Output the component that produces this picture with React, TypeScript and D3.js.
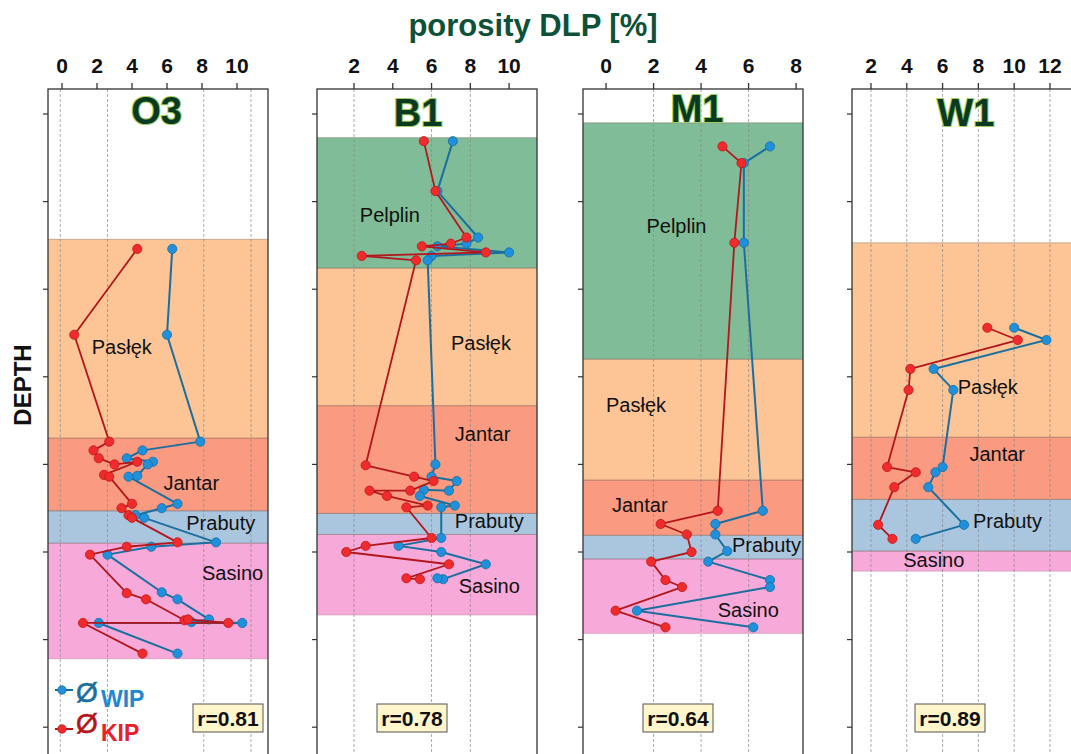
import React from "react";
import * as d3 from "d3";

// ---------- data ----------
// depth in arbitrary units (tick spacing 100), value = porosity [%]
const depthTicks = [0, 100, 200, 300, 400, 500, 600, 700];

const wellNames = ["O3", "B1", "M1", "W1"];
const rValues = ["r=0.81", "r=0.78", "r=0.64", "r=0.89"];

const o3Ticks = [0, 2, 4, 6, 8, 10];
const b1Ticks = [2, 4, 6, 8, 10];
const m1Ticks = [0, 2, 4, 6, 8];
const w1Ticks = [2, 4, 6, 8, 10, 12];

const o3Grid = [-0.1, 2.6, 8.1, 10.8];
const b1Grid = [2, 6, 8];
const m1Grid = [2, 4, 6];
const w1Grid = [2, 4, 6, 8, 10, 12];

const o3Domain = [-0.8, 11.77];
const b1Domain = [0.09, 11.44];
const m1Domain = [-0.97, 8.29];
const w1Domain = [0.94, 13.23];

// [depth, porosity]
const o3Wip = [[154, 6.3], [252, 6.0], [374, 7.9], [384, 4.6], [393, 3.7], [397, 5.2], [400, 4.9], [413, 4.3], [414, 3.8], [445, 6.6], [450, 5.7], [458, 4.2], [461, 4.7], [489, 8.8], [494, 5.1], [503, 2.6], [546, 5.7], [554, 6.6], [577, 8.4], [580, 7.4], [581, 10.3], [581, 2.1], [616, 6.6]];
const o3Kip = [[154, 4.3], [252, 0.7], [374, 2.7], [384, 1.8], [393, 2.1], [400, 3.0], [397, 4.3], [412, 2.4], [414, 2.7], [445, 4.0], [450, 3.4], [458, 3.8], [461, 4.0], [489, 6.6], [494, 3.7], [503, 1.6], [547, 3.7], [554, 4.8], [578, 7.0], [577, 7.2], [581, 9.5], [581, 1.2], [616, 4.6]];

const b1Wip = [[31, 7.1], [88, 6.3], [141, 8.4], [148, 7.8], [151, 6.3], [158, 10.0], [162, 6.0], [167, 5.8], [400, 6.2], [414, 6.0], [419, 7.3], [430, 6.9], [429, 5.6], [436, 5.4], [447, 7.2], [449, 6.5], [484, 6.5], [493, 4.3], [500, 6.5], [514, 8.8], [531, 6.6], [530, 6.3]];
const b1Kip = [[31, 5.6], [88, 6.2], [141, 7.8], [148, 7.0], [151, 5.5], [158, 8.8], [162, 2.4], [167, 5.2], [401, 2.6], [414, 5.1], [419, 6.1], [430, 4.9], [430, 2.8], [436, 3.7], [447, 5.8], [449, 4.7], [484, 6.0], [493, 2.6], [500, 1.6], [514, 6.9], [530, 4.7], [531, 5.4]];

const m1Wip = [[37, 6.9], [56, 5.8], [147, 5.8], [453, 6.6], [468, 4.6], [480, 4.6], [499, 5.1], [511, 4.3], [532, 6.9], [540, 6.9], [567, 1.3], [586, 6.2]];
const m1Kip = [[37, 4.9], [56, 5.7], [147, 5.4], [453, 4.7], [468, 2.3], [480, 3.4], [500, 3.6], [511, 1.9], [532, 2.5], [540, 3.2], [567, 0.4], [586, 2.5]];

const w1Wip = [[244, 10.0], [258, 11.8], [291, 5.5], [315, 6.6], [403, 6.0], [409, 5.6], [426, 5.2], [469, 7.2], [485, 4.5]];
const w1Kip = [[244, 8.5], [258, 10.2], [291, 4.2], [315, 4.1], [403, 2.9], [409, 4.5], [426, 3.3], [469, 2.4], [485, 3.2]];

// formations: [name, top depth, bottom depth]
const o3Bands = [["Pasłęk", 143, 370], ["Jantar", 370, 453], ["Prabuty", 453, 490], ["Sasino", 490, 622]];
const b1Bands = [["Pelplin", 27, 176], ["Pasłęk", 176, 333], ["Jantar", 333, 456], ["Prabuty", 456, 480], ["Sasino", 480, 572]];
const m1Bands = [["Pelplin", 10, 280], ["Pasłęk", 280, 418], ["Jantar", 418, 481], ["Prabuty", 481, 508], ["Sasino", 508, 593]];
const w1Bands = [["Pasłęk", 147, 369], ["Jantar", 369, 440], ["Prabuty", 440, 499], ["Sasino", 499, 522]];

// formation label anchors: [name, porosity (left edge), depth (baseline)]
const o3Labels = [["Pasłęk", 1.7, 274], ["Jantar", 5.8, 429], ["Prabuty", 7.1, 475], ["Sasino", 8.0, 532]];
const b1Labels = [["Pelplin", 2.3, 123], ["Pasłęk", 7.0, 269], ["Jantar", 7.2, 373], ["Prabuty", 7.2, 473], ["Sasino", 7.4, 547]];
const m1Labels = [["Pelplin", 1.7, 136], ["Pasłęk", 0.0, 340], ["Jantar", 0.25, 454], ["Prabuty", 5.3, 500], ["Sasino", 4.7, 574]];
const w1Labels = [["Pasłęk", 6.85, 320], ["Jantar", 7.5, 396], ["Prabuty", 7.7, 473], ["Sasino", 3.8, 517]];

// well title anchor: [porosity (center), depth (baseline)]
const titleAnchors = [[5.4, 11], [5.3, 14], [3.83, 9], [7.3, 14]];

// ---------- style / layout ----------
const FONT = "'Liberation Sans', Arial, Helvetica, sans-serif";
const bandColors: Record<string, string> = {
  "Pelplin": "#7fbc97",
  "Pasłęk": "#fdc596",
  "Jantar": "#fa9a80",
  "Prabuty": "#aac6df",
  "Sasino": "#f7a9da",
};
const WIP_LINE = "#1b6f9f";
const WIP_DOT = "#1e90dc";
const KIP_LINE = "#b3171c";
const KIP_DOT = "#f02b2b";

const W = 1071;
const H = 754;
const panelLefts = [48, 317, 583, 852];
const panelW = 220;
const frameTop = 89;
const frameBottom = 770;
const rBoxOffsets = [145, 60, 60, 63];

const yScale = d3.scaleLinear().domain([0, 700]).range([114, 114 + 7 * 87.6]);

const panels = [
  { ticks: o3Ticks, grid: o3Grid, domain: o3Domain, wip: o3Wip, kip: o3Kip, bands: o3Bands, labels: o3Labels },
  { ticks: b1Ticks, grid: b1Grid, domain: b1Domain, wip: b1Wip, kip: b1Kip, bands: b1Bands, labels: b1Labels },
  { ticks: m1Ticks, grid: m1Grid, domain: m1Domain, wip: m1Wip, kip: m1Kip, bands: m1Bands, labels: m1Labels },
  { ticks: w1Ticks, grid: w1Grid, domain: w1Domain, wip: w1Wip, kip: w1Kip, bands: w1Bands, labels: w1Labels },
];

function Panel({ i }: { i: number }) {
  const p = panels[i];
  const left = panelLefts[i];
  const x = d3.scaleLinear().domain(p.domain as [number, number]).range([left, left + panelW]);
  const line = d3.line<number[]>().x((d) => x(d[1])).y((d) => yScale(d[0]));
  const clipId = `clip-${i}`;
  const [tx, td] = titleAnchors[i];
  return (
    <g>
      <defs>
        <clipPath id={clipId}>
          <rect x={left} y={frameTop} width={panelW} height={frameBottom - frameTop} />
        </clipPath>
      </defs>
      <g clipPath={`url(#${clipId})`}>
        {p.bands.map((b: any, k: number) => (
          <rect key={k} x={left} width={panelW} y={yScale(b[1])} height={yScale(b[2]) - yScale(b[1])} fill={bandColors[b[0]]} />
        ))}
        {p.bands.map((b: any, k: number) => (
          <g key={"bl" + k}>
            <line x1={left} x2={left + panelW} y1={yScale(b[1])} y2={yScale(b[1])} stroke="#6a4a40" strokeOpacity={0.35} strokeWidth={1} />
            <line x1={left} x2={left + panelW} y1={yScale(b[2])} y2={yScale(b[2])} stroke="#6a4a40" strokeOpacity={0.2} strokeWidth={1} />
          </g>
        ))}
        {p.grid.map((g: number, k: number) => (
          <line key={"g" + k} x1={x(g)} x2={x(g)} y1={frameTop} y2={frameBottom} stroke="#8a8a8a" strokeWidth={0.9} strokeDasharray="3,2" strokeOpacity={0.8} />
        ))}
        {p.labels.map((l: any, k: number) => (
          <text key={"l" + k} x={x(l[1])} y={yScale(l[2])} fontFamily={FONT} fontSize={20} fill="#111">{l[0]}</text>
        ))}
        <path d={line(p.wip as number[][]) || ""} fill="none" stroke={WIP_LINE} strokeWidth={2} strokeLinejoin="round" />
        {p.wip.map((d: number[], k: number) => (
          <circle key={"w" + k} cx={x(d[1])} cy={yScale(d[0])} r={4.6} fill={WIP_DOT} stroke={WIP_LINE} strokeWidth={0.8} />
        ))}
        <path d={line(p.kip as number[][]) || ""} fill="none" stroke={KIP_LINE} strokeWidth={1.8} strokeLinejoin="round" />
        {p.kip.map((d: number[], k: number) => (
          <circle key={"k" + k} cx={x(d[1])} cy={yScale(d[0])} r={4.6} fill={KIP_DOT} stroke="#c0181c" strokeWidth={0.8} />
        ))}
      </g>
      <rect x={left} y={frameTop} width={panelW} height={frameBottom - frameTop} fill="none" stroke="#333" strokeWidth={1.3} />
      {p.ticks.map((t: number, k: number) => (
        <g key={"t" + k}>
          <line x1={x(t)} x2={x(t)} y1={frameTop} y2={frameTop - 6} stroke="#333" strokeWidth={1.3} />
          <text x={x(t)} y={frameTop - 16} textAnchor="middle" fontFamily={FONT} fontWeight="bold" fontSize={21} fill="#111">{t}</text>
        </g>
      ))}
      {depthTicks.map((t, k) => (
        <line key={"d" + k} x1={left - 5} x2={left} y1={yScale(t)} y2={yScale(t)} stroke="#333" strokeWidth={1.2} />
      ))}
      <text x={x(tx)} y={yScale(td)} textAnchor="middle" fontFamily={FONT} fontWeight="bold" fontSize={38}
        fill="#0b3a22" stroke="#9fd060" strokeWidth={2.2} paintOrder="stroke">{wellNames[i]}</text>
      <g transform={`translate(${left + rBoxOffsets[i]},704)`}>
        <rect width={70} height={28} fill="#fff6cc" stroke="#555" strokeWidth={1} />
        <text x={35} y={22} textAnchor="middle" fontFamily={FONT} fontWeight="bold" fontSize={21} fill="#111">{rValues[i]}</text>
      </g>
    </g>
  );
}

function Legend() {
  return (
    <g fontFamily={FONT}>
      <line x1={55} x2={73} y1={690} y2={690} stroke={WIP_LINE} strokeWidth={2} />
      <circle cx={62} cy={690} r={4.2} fill={WIP_DOT} stroke={WIP_LINE} strokeWidth={0.8} />
      <text x={76} y={702} fontSize={28} fill={WIP_LINE} stroke={WIP_LINE} strokeWidth={0.6}>Ø</text>
      <text x={101} y={707} fontSize={23} fontWeight="bold" fill="#1e88d0">WIP</text>
      <line x1={55} x2={73} y1={729} y2={729} stroke={KIP_LINE} strokeWidth={2} />
      <circle cx={62} cy={729} r={4.2} fill={KIP_DOT} stroke="#c0181c" strokeWidth={0.8} />
      <text x={76} y={733} fontSize={28} fill={KIP_LINE} stroke={KIP_LINE} strokeWidth={0.6}>Ø</text>
      <text x={101} y={741} fontSize={23} fontWeight="bold" fill="#e8202a">KIP</text>
    </g>
  );
}

export default function App() {
  return (
    <svg width={W} height={H} style={{ position: "absolute", left: 0, top: 0, background: "#fff" }}>
      <rect width={W} height={H} fill="#fff" />
      <text x={533} y={36} textAnchor="middle" fontFamily={FONT} fontWeight="bold" fontSize={31} fill="#0d5238">porosity DLP [%]</text>
      <text transform="translate(31,385) rotate(-90)" textAnchor="middle" fontFamily={FONT} fontWeight="bold" fontSize={24} fill="#111">DEPTH</text>
      {panels.map((_, i) => <Panel key={i} i={i} />)}
      <Legend />
    </svg>
  );
}
